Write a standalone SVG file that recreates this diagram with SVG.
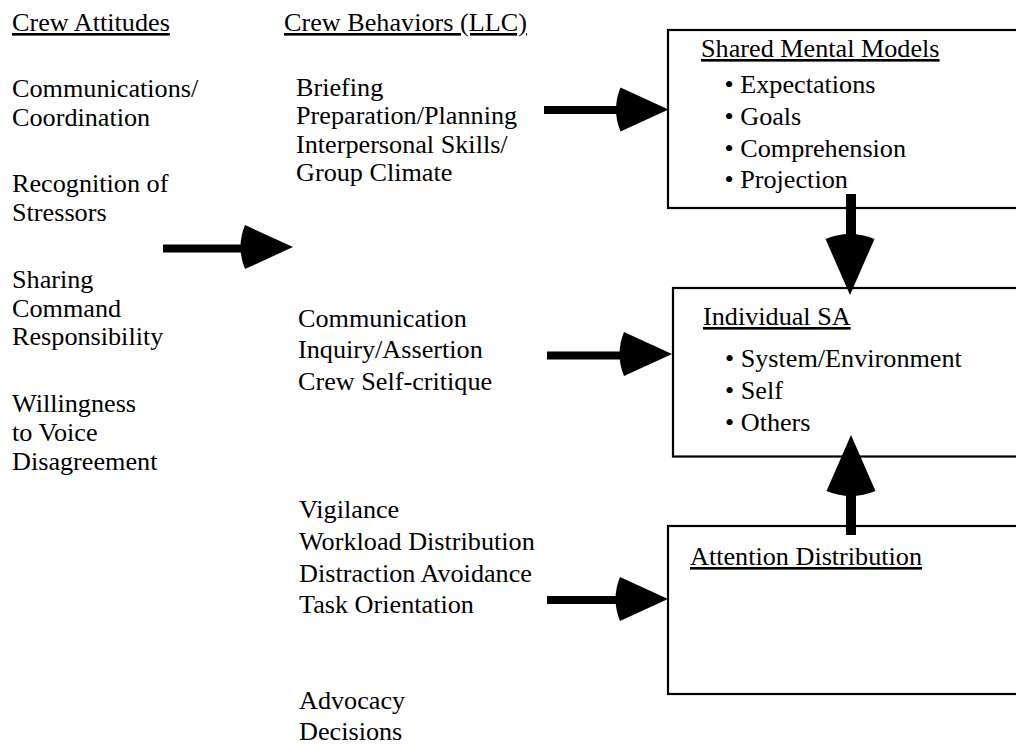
<svg xmlns="http://www.w3.org/2000/svg" xmlns:xlink="http://www.w3.org/1999/xlink" width="1016" height="747" viewBox="0 0 1016 747">
<style>
  text { font-family: "Liberation Serif", "Times New Roman", serif; font-size: 26.2px; fill: #000; }
  .hd { text-decoration: underline; }
  .box { fill: #fff; stroke: #000; stroke-width: 2.2; }
  .shaft { stroke: #000; stroke-width: 8; fill: none; }
  .vshaft { stroke: #000; stroke-width: 10; fill: none; }
</style>
<defs>
  <path id="head" d="M0 0 L-48 -22 Q-57 0 -48 22 Z" fill="#000"/>
  <path id="bighead" d="M0 0 L-56 -24.5 Q-66 0 -56 24.5 Z" fill="#000"/>
</defs>
<rect width="1016" height="747" fill="#fff"/>

<g id="crew-attitudes">
  <text x="12" y="31" class="hd">Crew Attitudes</text>
  <text x="12" y="97">Communications/</text>
  <text x="12" y="125.5">Coordination</text>
  <text x="12" y="192">Recognition of</text>
  <text x="12" y="221">Stressors</text>
  <text x="12" y="288">Sharing</text>
  <text x="12" y="316.5">Command</text>
  <text x="12" y="345">Responsibility</text>
  <text x="12" y="412">Willingness</text>
  <text x="12" y="441">to Voice</text>
  <text x="12" y="469.5">Disagreement</text>
</g>

<g id="crew-behaviors-header">
  <text x="284" y="31" class="hd">Crew Behaviors (LLC)</text>
</g>

<g id="behaviors-smm">
  <text x="296" y="95.5">Briefing</text>
  <text x="296" y="124">Preparation/Planning</text>
  <text x="296" y="152.5">Interpersonal Skills/</text>
  <text x="296" y="181">Group Climate</text>
</g>

<g id="behaviors-sa">
  <text x="298" y="326.5">Communication</text>
  <text x="298" y="358">Inquiry/Assertion</text>
  <text x="298" y="389.5">Crew Self-critique</text>
</g>

<g id="behaviors-attention">
  <text x="299" y="518">Vigilance</text>
  <text x="299" y="550">Workload Distribution</text>
  <text x="299" y="581.5">Distraction Avoidance</text>
  <text x="299" y="613">Task Orientation</text>
</g>

<g id="behaviors-other">
  <text x="299" y="709">Advocacy</text>
  <text x="299" y="740">Decisions</text>
</g>

<g id="shared-mental-models">
  <rect class="box" x="668" y="30" width="400" height="178"/>
  <text x="701" y="57" class="hd">Shared Mental Models</text>
  <text x="724.5" y="92.5">• Expectations</text>
  <text x="724.5" y="124.5">• Goals</text>
  <text x="724.5" y="156.5">• Comprehension</text>
  <text x="724.5" y="188">• Projection</text>
</g>

<g id="individual-sa">
  <rect class="box" x="673" y="288" width="400" height="168.5"/>
  <text x="703" y="325" class="hd">Individual SA</text>
  <text x="725" y="367">• System/Environment</text>
  <text x="725" y="398.5">• Self</text>
  <text x="725" y="430.5">• Others</text>
</g>

<g id="attention-distribution">
  <rect class="box" x="668" y="526" width="400" height="168"/>
  <text x="690" y="565" class="hd">Attention Distribution</text>
</g>

<g id="connectors">
  <line class="shaft" x1="163" y1="248.5" x2="250" y2="248.5"/>
  <use xlink:href="#head" href="#head" transform="translate(293 247)"/>

  <line class="shaft" x1="544" y1="110" x2="625" y2="110"/>
  <use xlink:href="#head" href="#head" transform="translate(668.5 109.5)"/>

  <line class="shaft" x1="547" y1="355.5" x2="628" y2="355.5"/>
  <use xlink:href="#head" href="#head" transform="translate(672 354)"/>

  <line class="shaft" x1="547" y1="600" x2="624" y2="600"/>
  <use xlink:href="#head" href="#head" transform="translate(668 599)"/>

  <line class="vshaft" x1="851" y1="194" x2="851" y2="245"/>
  <use xlink:href="#bighead" href="#bighead" transform="translate(850 295) rotate(90)"/>

  <line class="vshaft" x1="851" y1="535" x2="851" y2="485"/>
  <use xlink:href="#bighead" href="#bighead" transform="translate(851 435) rotate(-90)"/>
</g>
</svg>
